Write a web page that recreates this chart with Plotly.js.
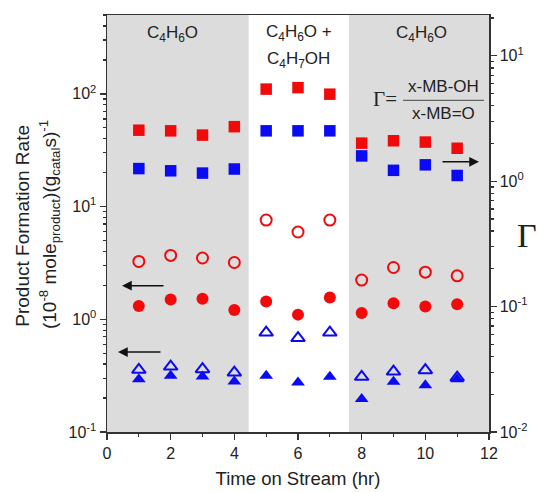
<!DOCTYPE html>
<html>
<head>
<meta charset="utf-8">
<script src="https://cdn.plot.ly/plotly-3.0.1.min.js"></script>
<style>html,body{margin:0;padding:0;background:#fff}#chart{width:538px;height:492px}</style>
</head>
<body>
<div id="chart"></div>
<script>
// Time on stream (hr)
var time = [1, 2, 3, 4, 5, 6, 7, 8, 9, 10, 11];
// Gamma (right axis) - squares
var gammaRed = [2.55, 2.52, 2.33, 2.72, 5.42, 5.57, 4.94, 2.01, 2.10, 2.05, 1.83];
var gammaBlue = [1.26, 1.21, 1.16, 1.25, 2.52, 2.52, 2.52, 1.59, 1.22, 1.35, 1.11];
// Product formation rate (left axis)
var redOpen = [3.26, 3.69, 3.50, 3.19, 7.60, 5.95, 7.60, 2.23, 2.88, 2.62, 2.43];
var redFilled = [1.31, 1.50, 1.52, 1.21, 1.44, 1.10, 1.56, 1.135, 1.39, 1.30, 1.36];
var blueOpen = [0.356, 0.381, 0.361, 0.337, 0.763, 0.681, 0.763, 0.309, 0.344, 0.354, 0.304];
var blueFilled = [0.294, 0.315, 0.310, 0.280, 0.315, 0.275, 0.309, 0.196, 0.279, 0.260, 0.294];

var leftTickVals = [0.1, 1, 10, 100];
var leftTickText = ['10<sup>-1</sup>', '10<sup>0</sup>', '10<sup>1</sup>', '10<sup>2</sup>'];
var rightTickVals = [0.01, 0.1, 1, 10];
var rightTickText = ['10<sup>-2</sup>', '10<sup>-1</sup>', '10<sup>0</sup>', '10<sup>1</sup>'];

function minorVals(decades) {
  var out = [];
  decades.forEach(function (d) { for (var k = 2; k <= 9; k++) out.push(k * d); });
  return out;
}

var RED = '#f00a0a', BLUE = '#0a0af5';
var traces = [
  {x: time, y: gammaRed, yaxis: 'y2', mode: 'markers', type: 'scatter',
   marker: {symbol: 'square', size: 11.5, color: RED}},
  {x: time, y: gammaBlue, yaxis: 'y2', mode: 'markers', type: 'scatter',
   marker: {symbol: 'square', size: 11.5, color: BLUE}},
  {x: time, y: redOpen, mode: 'markers', type: 'scatter',
   marker: {symbol: 'circle-open', size: 11, color: RED, line: {width: 2, color: RED}}},
  {x: time, y: redFilled, mode: 'markers', type: 'scatter',
   marker: {symbol: 'circle', size: 12, color: RED}},
  {x: time, y: blueOpen, mode: 'markers', type: 'scatter',
   marker: {symbol: 'triangle-up-open', size: 12, color: BLUE, line: {width: 2, color: BLUE}}},
  {x: time, y: blueFilled, mode: 'markers', type: 'scatter',
   marker: {symbol: 'triangle-up', size: 12, color: BLUE}}
];

var FONT = 'Liberation Sans, Arial, sans-serif';
var SERIF = 'Liberation Serif, Times New Roman, serif';
var AX = '#333';
var TXT = '#222';
function note(xref, x, y, text, size, family, extra) {
  var a = {xref: xref, yref: 'paper', x: x, y: y, text: text, showarrow: false,
    xanchor: 'center', yanchor: 'middle', font: {size: size, family: family || FONT, color: TXT}};
  if (extra) for (var k in extra) a[k] = extra[k];
  return a;
}
function arrow(x, y, ax) {
  return {xref: 'paper', yref: 'paper', x: x, y: y, ax: ax, ay: 0, text: '', showarrow: true,
    arrowhead: 2, arrowsize: 1.3, arrowwidth: 1.5, arrowcolor: '#111'};
}

var layout = {
  width: 538, height: 492,
  margin: {l: 107, r: 49, t: 15, b: 60},
  paper_bgcolor: '#fff', plot_bgcolor: 'rgba(0,0,0,0)',
  showlegend: false,
  font: {family: FONT, size: 16, color: TXT},
  xaxis: {
    range: [0, 12], dtick: 2, tick0: 0, ticks: 'outside', ticklen: 6, tickwidth: 1.3, tickcolor: AX,
    showline: true, linecolor: AX, linewidth: 1.5, mirror: true,
    showgrid: false, zeroline: false,
    minor: {ticks: 'outside', ticklen: 3, dtick: 1, tickcolor: AX},
    tickfont: {size: 16, family: FONT, color: TXT},
    title: {text: 'Time on Stream (hr)', font: {size: 18.5, family: FONT, color: TXT}, standoff: 11}
  },
  yaxis: {
    type: 'log', range: [-1, 2.70],
    tickvals: leftTickVals, ticktext: leftTickText,
    ticks: 'outside', ticklen: 6, tickwidth: 1.3, tickcolor: AX,
    showline: true, linecolor: AX, linewidth: 1.5,
    showgrid: false, zeroline: false,
    minor: {ticks: 'outside', ticklen: 3, tickcolor: AX, tickvals: minorVals([0.1, 1, 10, 100])},
    tickfont: {size: 16, family: FONT, color: TXT}
  },
  yaxis2: {
    type: 'log', range: [-2, 1.325], overlaying: 'y', side: 'right',
    tickvals: rightTickVals, ticktext: rightTickText,
    ticks: 'outside', ticklen: 6, tickwidth: 1.3, tickcolor: AX,
    showline: true, linecolor: AX, linewidth: 1.5,
    showgrid: false, zeroline: false,
    minor: {ticks: 'outside', ticklen: 3, tickcolor: AX, tickvals: minorVals([0.01, 0.1, 1, 10])},
    tickfont: {size: 16, family: FONT, color: TXT}
  },
  shapes: [
    {type: 'rect', xref: 'x', yref: 'paper', x0: 0, x1: 4.45, y0: 0, y1: 1,
     fillcolor: '#dcdcdc', line: {width: 0}, layer: 'below'},
    {type: 'rect', xref: 'x', yref: 'paper', x0: 7.6, x1: 12, y0: 0, y1: 1,
     fillcolor: '#dcdcdc', line: {width: 0}, layer: 'below'},
    {type: 'line', xref: 'paper', yref: 'paper', x0: 0.775, x1: 0.987, y0: 0.7954, y1: 0.7954,
     line: {width: 1, color: '#444'}}
  ],
  annotations: [
    note('x', 2.07, 0.955, 'C<sub>4</sub>H<sub>6</sub>O', 17),
    note('x', 6.02, 0.957, 'C<sub>4</sub>H<sub>6</sub>O +', 17),
    note('x', 6.0, 0.891, 'C<sub>4</sub>H<sub>7</sub>OH', 17),
    note('x', 9.87, 0.955, 'C<sub>4</sub>H<sub>6</sub>O', 17),
    note('paper', 0.728, 0.7986, 'Γ=', 21, SERIF),
    note('paper', 0.882, 0.8285, 'x-MB-OH', 17),
    note('paper', 0.880, 0.7645, 'x-MB=O', 17),
    note('paper', -0.2233, 0.494, 'Product Formation Rate', 19, FONT, {textangle: -90}),
    note('paper', -0.151, 0.497, '(10<sup>-8</sup> mole<sub>product</sub>)(g<sub>catal</sub>s)<sup>-1</sup>',
         19, FONT, {textangle: -90}),
    note('paper', 1.0995, 0.472, 'Γ', 34, SERIF),
    arrow(0.0393, 0.3508, 43),
    arrow(0.0288, 0.1918, 44),
    arrow(0.9738, 0.648, -38)
  ]
};

Plotly.newPlot('chart', traces, layout, {displayModeBar: false, staticPlot: true});
</script>
</body>
</html>
